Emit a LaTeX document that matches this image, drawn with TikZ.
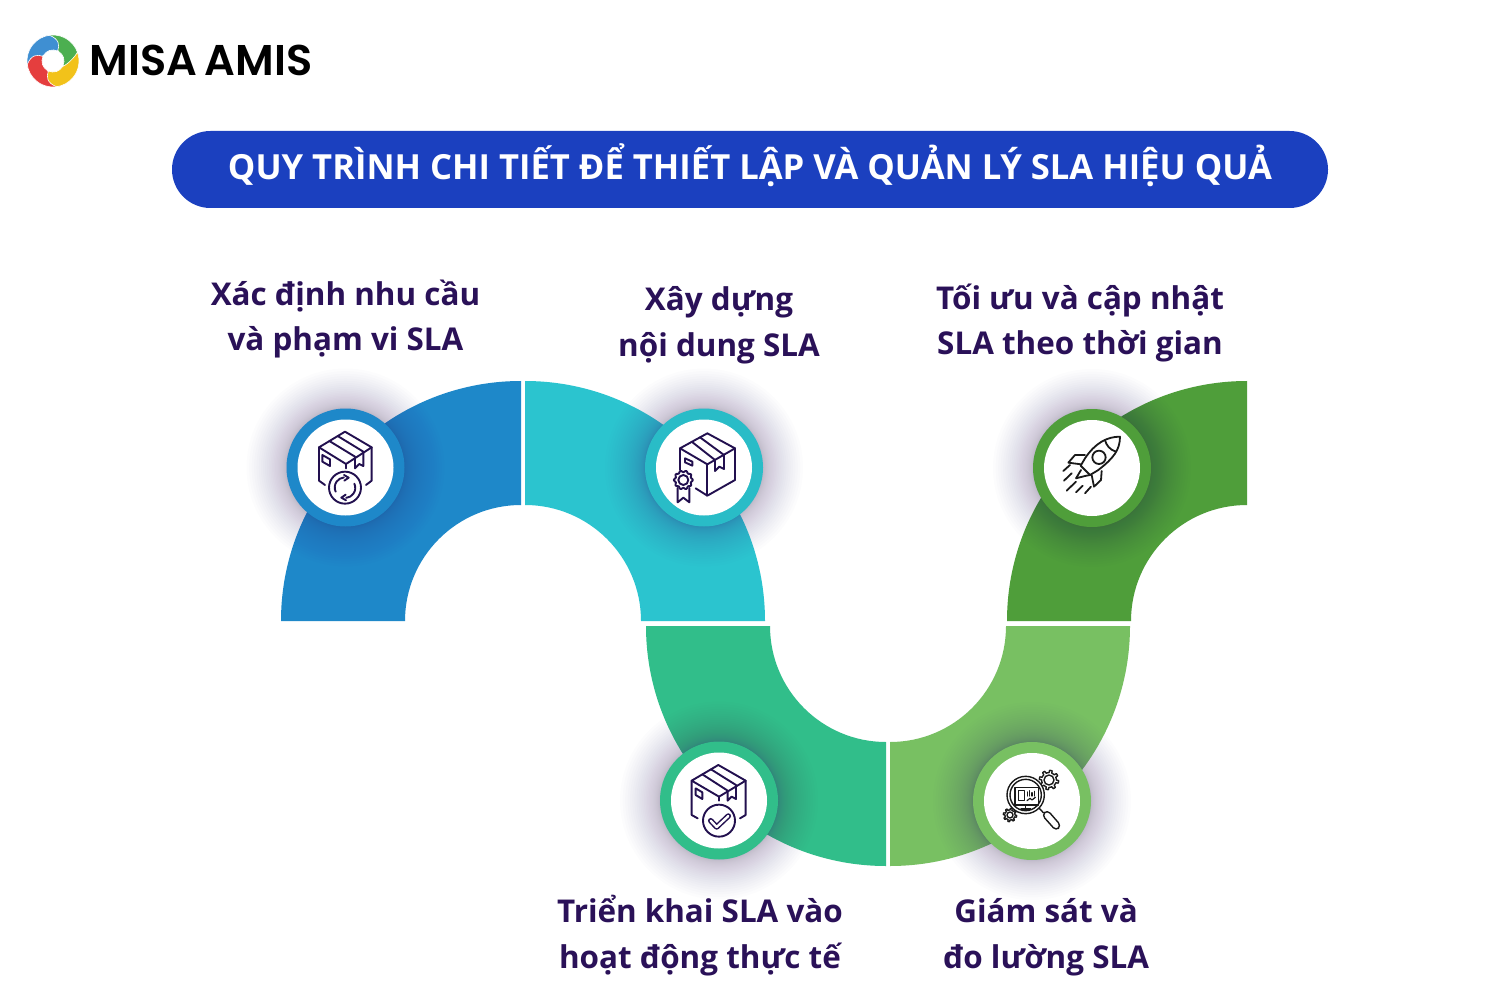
\documentclass[tikz,border=0pt]{standalone}
\usepackage{fontspec}
\setmainfont{Open Sans}[BoldFont={Open Sans Bold}]
\newfontfamily\logofont{Poppins SemiBold}
\usetikzlibrary{calc}
\definecolor{inkc}{HTML}{22104F}
\definecolor{titlec}{HTML}{1B40BF}
\definecolor{labelc}{HTML}{2A1158}
\definecolor{segA}{HTML}{1E88C9}
\definecolor{segB}{HTML}{2BC4CF}
\definecolor{segC}{HTML}{31BE8A}
\definecolor{segD}{HTML}{78C062}
\definecolor{segE}{HTML}{4F9E3A}
\definecolor{glowc}{HTML}{3B2A7A}
\tikzset{
  x=1pt,y=-1pt,
  lbl/.style={font=\fontsize{31.4}{31.4}\selectfont\bfseries,text=labelc,inner sep=0pt,anchor=base},
  ttl/.style={font=\fontsize{34.6}{34.6}\selectfont\bfseries,text=white,inner sep=0pt,anchor=base},
  icon/.style={draw=inkc,line width=1.9pt,line join=round,line cap=round},
  iconblack/.style={draw=black!90,line width=1.8pt,line join=round,line cap=round},
  zoomed/.style={shift={#1},x=0.33333pt,y=-0.33333pt},
}
\newcommand{\glow}[2]{\foreach \gi in {1,...,30}{\fill[glowc,opacity=0.012] (#1,#2) circle[radius=59+40*(\gi/30)^2];}}
\newcommand{\badge}[3]{\fill[#3] (#1,#2) circle[radius=59]; \fill[white] (#1,#2) circle[radius=48];}
\begin{document}
\begin{tikzpicture}
\useasboundingbox (0,0) rectangle (1500,1000);
\fill[white] (0,0) rectangle (1500,1000);
% logo
\begin{scope}[shift={(53,61)}]
 \foreach \ang/\col in {0/4CAF50,90/3F8FD2,180/E53E3E,270/F2C21A}{
  \definecolor{bladec}{HTML}{\col}
  \begin{scope}[rotate=\ang]
   \fill[bladec,draw=white,line width=0.6pt] (-110:26) arc[start angle=-110,end angle=-8,radius=26]
     .. controls (22,6) and (16,7) .. (10,4.6)
     arc[start angle=25,end angle=-60,radius=11]
     .. controls (3,-15) and (-4,-22) .. (-110:26) -- cycle;
  \end{scope}}
\end{scope}
\node[font=\logofont\fontsize{43}{43}\selectfont,text=black,inner sep=0pt,anchor=base] (logo) at (201,76) {MISA\kern-3pt\ AMIS};
% title
\fill[titlec,rounded corners=38.5] (172,131) rectangle (1328,208);
\node[ttl] (title) at (750,180) {QUY TRÌNH CHI TIẾT ĐỂ THIẾT LẬP VÀ QUẢN LÝ SLA HIỆU QUẢ};
% segments
\fill[segA] (281,621) arc[start angle=180,end angle=270,radius=240] -- (521,505) arc[start angle=270,end angle=180,radius=116] -- cycle;
\fill[segB] (525,381) arc[start angle=270,end angle=360,radius=240] -- (641,621) arc[start angle=360,end angle=270,radius=116] -- cycle;
\fill[segC] (646,626) arc[start angle=180,end angle=90,radius=240] -- (886,742) arc[start angle=90,end angle=180,radius=116] -- cycle;
\fill[segD] (890,866) arc[start angle=90,end angle=0,radius=240] -- (1006,626) arc[start angle=0,end angle=90,radius=116] -- cycle;
\fill[segE] (1007,621) arc[start angle=180,end angle=270,radius=240] -- (1247,505) arc[start angle=270,end angle=180,radius=116] -- cycle;
% glows and badges
\glow{345.5}{467.5}\glow{704}{467.5}\glow{1092}{468}\glow{719}{800.5}\glow{1032}{801}
\badge{345.5}{467.5}{segA}
\badge{704}{467.5}{segB!96!black}
\badge{1092}{468}{segE}
\badge{719}{800.5}{segC}
\badge{1032}{801}{segD}
% icon 1
\begin{scope}[zoomed={(270,390)},icon]
 \draw (225,125) -- (305,172) -- (228,222) -- (147,172) -- cycle;
 \draw (147,172) -- (147,272) -- (165,285);
 \draw (305,172) -- (305,272) -- (288,285);
 \draw (228,222) -- (228,235);
 \draw (178,153) -- (255,200) -- (255,235) -- (268,222) -- (280,228) -- (280,185) -- (203,138);
 \draw (157,195) -- (180,208) -- (180,228) -- (157,215) -- cycle;
 \draw (225,293) circle[radius=48];
 \draw (197,305) arc[start angle=155,end angle=265,radius=30];
 \draw (253,281) arc[start angle=-25,end angle=85,radius=30];
 \draw (222,255) -- (236,263) -- (223,272);
 \draw (228,331) -- (214,323) -- (227,314);
\end{scope}
% icon 2
\begin{scope}[zoomed={(630,395)},icon]
 \draw (232,115) -- (315,160) -- (232,208) -- (150,160) -- cycle;
 \draw (150,160) -- (150,225);
 \draw (315,160) -- (315,255) -- (232,302) -- (197,280);
 \draw (232,208) -- (232,302);
 \draw (185,140) -- (255,195) -- (255,228) -- (268,215) -- (282,222) -- (282,180) -- (210,127);
 \draw (165,190) -- (187,200) -- (187,212) -- (165,202) -- cycle;
 \draw[fill=white] plot[domain=0:360,samples=61,smooth] ({160+(26+2.5*cos(10*\x))*cos(\x)},{255+(26+2.5*cos(10*\x))*sin(\x)}) -- cycle;
 \draw (160,255) circle[radius=15];
 \draw (143,279) -- (143,322) -- (160,308) -- (178,322) -- (178,279);
\end{scope}
% icon 3 rocket
\begin{scope}[zoomed={(1020,395)},iconblack]
 \draw (300,125) .. controls (260,125) and (225,145) .. (195,190) -- (182,212) -- (210,240) -- (235,225) .. controls (280,190) and (300,165) .. (300,125) -- cycle;
 \draw (237,187) circle[radius=20];
 \draw (255,135) .. controls (258,150) and (270,165) .. (288,170);
 \draw (195,180) -- (165,180) -- (145,203) -- (183,208);
 \draw (245,228) -- (243,255) -- (222,275) -- (215,240);
 \draw (183,225) -- (168,250) -- (195,243) -- (210,240);
 \draw (150,210) -- (130,228);
 \draw (155,235) -- (132,257);
 \draw (168,260) -- (140,287);
 \draw (188,272) -- (168,292);
 \draw (213,275) -- (195,295);
\end{scope}
% icon 4
\begin{scope}[zoomed={(645,730)},icon]
 \draw (220,105) -- (302,152) -- (222,200) -- (140,152) -- cycle;
 \draw (140,152) -- (140,255) -- (158,265);
 \draw (302,152) -- (302,255) -- (285,265);
 \draw (222,200) -- (222,212);
 \draw (172,133) -- (248,182) -- (248,212) -- (260,200) -- (273,207) -- (273,165) -- (198,118);
 \draw (152,175) -- (172,187) -- (172,207) -- (152,195) -- cycle;
 \draw (222,272) circle[radius=48];
 \draw[line width=5.4pt,line cap=round] (197,272) -- (215,291) -- (250,258);
 \draw[draw=white,line width=2.4pt,line cap=round] (197,272) -- (215,291) -- (250,258);
\end{scope}
% icon 5 magnifier
\begin{scope}[zoomed={(960,730)},iconblack,line width=1.4pt]
 \draw[fill=white] plot[domain=0:360,samples=97] ({267+(22+7*(sin(8*\x)>0?1:0))*cos(\x)},{150+(22+7*(sin(8*\x)>0?1:0))*sin(\x)}) -- cycle;
 \draw (267,150) circle[radius=15];
 \draw[fill=white] plot[domain=0:360,samples=97] ({150+(15+5*(sin(8*\x)>0?1:0))*cos(\x)},{255+(15+5*(sin(8*\x)>0?1:0))*sin(\x)}) -- cycle;
 \draw (150,255) circle[radius=9];
 \draw[fill=white] (197,195) circle[radius=56];
 \draw (197,195) circle[radius=47];
 \draw (165,172) rectangle (235,225);
 \draw (197,225) -- (197,235);
 \draw (183,237) -- (212,237);
 \draw[line width=1pt] (175,180) rectangle (192,212);
 \draw[line width=1.2pt] (202,198) -- (202,186) (209,198) -- (209,182) (216,198) -- (216,188) (223,198) -- (223,184);
 \draw[line width=1.2pt] (201,212) -- (210,205) -- (216,210) -- (226,202);
 \draw (237,234) -- (250,248);
 \draw[rounded corners=4pt,fill=white] (246,255) -- (262,240) -- (303,287) -- (288,302) -- cycle;
\end{scope}
% labels
\node[lbl] (a1) at (345.5,306) {Xác định nhu cầu};
\node[lbl] (a2) at (345.5,351) {và phạm vi SLA};
\node[lbl] (b1) at (719,311) {Xây dựng};
\node[lbl] (b2) at (719,356) {nội dung SLA};
\node[lbl] (c1) at (1080,310) {Tối ưu và cập nhật};
\node[lbl] (c2) at (1080,355) {SLA theo thời gian};
\node[lbl] (d1) at (700,922) {Triển khai SLA vào};
\node[lbl] (d2) at (700,968) {hoạt động thực tế};
\node[lbl] (e1) at (1046,922) {Giám sát và};
\node[lbl] (e2) at (1046,968) {đo lường SLA};
\end{tikzpicture}
\end{document}
